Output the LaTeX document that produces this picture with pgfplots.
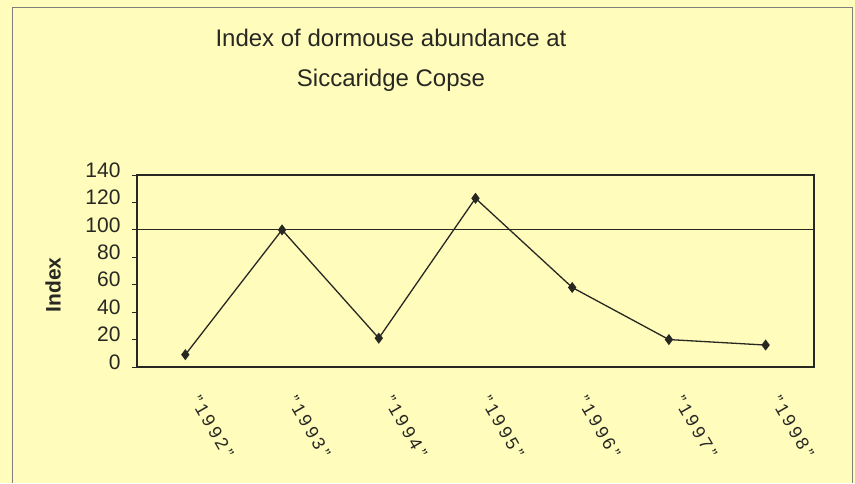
\documentclass[border=0pt]{standalone}
\usepackage{fontspec}
\setmainfont{Liberation Sans}
\usepackage{pgfplots}
\pgfplotsset{compat=1.18}
\definecolor{bg}{RGB}{255,252,188}
\definecolor{ink}{RGB}{40,40,35}
\begin{document}
\begin{tikzpicture}[x=1pt,y=1pt]
\fill[bg] (0,0) rectangle (855,483);
\useasboundingbox (0,0) rectangle (855,483);
\draw[ink!60, line width=1pt] (12,0) -- (12,475) -- (852,475) -- (852,0);
\node[font=\fontsize{24}{40}\selectfont, align=center, text=ink] at (391,423) {Index of dormouse abundance at\\Siccaridge Copse};
\begin{axis}[
  at={(137pt,116pt)}, anchor=south west,
  scale only axis, width=677pt, height=192pt,
  xmin=-0.5, xmax=6.5, ymin=0, ymax=140,
  ytick={0,20,...,140},
  xtick={0,1,2,3,4,5,6},
  xticklabels={"1992","1993","1994","1995","1996","1997","1998"},
  x tick label style={xshift=8pt, yshift=-22pt, rotate=-60, anchor=west, font=\fontsize{18}{18}\selectfont\addfontfeature{LetterSpace=18}, text=ink},
  y tick label style={font=\fontsize{21}{21}\selectfont, text=ink, xshift=-8pt, yshift=5pt},
  /pgf/number format/assume math mode=true,
  major x tick style={draw=none},
  ytick pos=left,
  tick align=outside, major tick length=5pt,
  ytick style={ink, line width=0.8pt},
  axis line style={ink, line width=1.1pt},
  extra y ticks={100}, extra y tick labels={},
  extra y tick style={grid=major, major grid style={ink, line width=0.9pt}, major tick length=0pt},
  ylabel={\bfseries Index},
  ylabel style={at={(axis description cs:-0.124,0.427)}, anchor=center, font=\fontsize{21}{21}\selectfont, text=ink},
  clip=false,
]
\addplot[ink, line width=1.3pt, mark=diamond*, mark size=4.5pt, mark options={fill=ink, solid}]
  coordinates {(0,9) (1,100) (2,21) (3,123) (4,58) (5,20) (6,16)};
\end{axis}
\end{tikzpicture}
\end{document}
